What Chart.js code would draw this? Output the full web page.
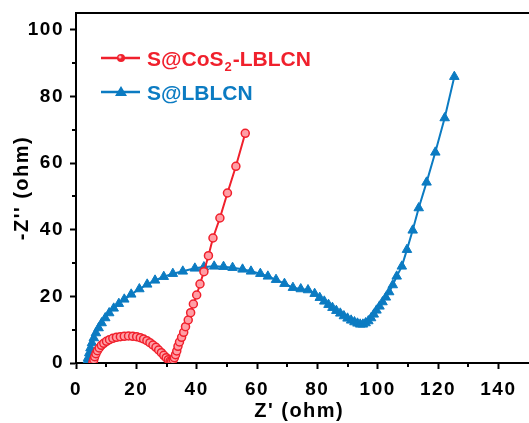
<!DOCTYPE html>
<html>
<head>
<meta charset="utf-8">
<script src="https://cdn.jsdelivr.net/npm/chart.js@4/dist/chart.umd.min.js"></script>
<style>
  html, body { margin: 0; padding: 0; background: #fff; }
  #wrap { width: 529px; height: 423px; }
</style>
</head>
<body>
<div id="wrap"><canvas id="nyquist" width="529" height="423"></canvas></div>
<script>
/* ---------- data ---------- */
const cosX = [5.6, 5.9, 6.2, 6.6, 7.1, 7.7, 8.4, 9.2, 10.1, 11.1, 12.2, 13.4, 14.7, 16.0, 17.4, 18.8, 20.1, 21.3, 22.4, 23.5,
  24.5, 25.5, 26.5, 27.4, 28.3, 29.1, 29.9, 30.6, 31.2, 31.7, 32.2, 32.6, 33.0, 33.4, 33.8, 34.3, 35.0, 35.7, 36.3, 37.2,
  38.0, 38.9, 40.0, 41.1, 42.4, 43.9, 45.4, 47.7, 50.2, 53.0, 56.1];
const cosY = [0.2, 1.0, 1.9, 2.8, 3.7, 4.5, 5.3, 5.9, 6.5, 7.0, 7.4, 7.7, 7.9, 8.0, 8.1, 8.0, 7.9, 7.6, 7.2, 6.7,
  6.1, 5.4, 4.7, 3.9, 3.1, 2.3, 1.6, 1.0, 0.6, 0.6, 1.0, 1.6, 2.5, 3.6, 5.0, 6.3, 7.7, 9.2, 10.9, 12.9,
  15.1, 17.7, 20.4, 23.7, 27.4, 32.2, 37.5, 43.5, 51.0, 59.0, 68.9];

const lblX = [3.6, 4.0, 4.4, 4.8, 5.3, 5.9, 6.6, 7.5, 8.5, 9.7, 11.0, 12.5, 14.2, 16.0, 18.3, 21.0, 23.6, 26.2, 29.1, 32.1,
  35.4, 39.4, 42.4, 45.8, 48.9, 51.9, 55.2, 58.0, 61.1, 63.6, 66.3, 69.1, 71.9, 74.5, 76.9, 79.1, 80.8, 82.3, 83.7, 85.0,
  86.3, 87.6, 88.8, 90.0, 91.2, 92.3, 93.3, 94.2, 95.1, 96.0, 96.9, 97.8, 98.7, 99.6, 100.6, 101.6, 102.7, 103.8, 105.0, 106.3,
  108.0, 109.7, 111.6, 113.6, 116.2, 119.1, 122.2, 125.4];
const lblY = [0.3, 1.5, 3.0, 4.5, 6.0, 7.5, 9.0, 10.5, 12.0, 13.5, 15.0, 16.4, 17.8, 19.1, 20.6, 22.2, 23.6, 24.8, 25.9, 26.8,
  27.5, 28.4, 28.8, 29.0, 28.9, 28.6, 28.1, 27.5, 26.8, 26.0, 25.0, 23.8, 22.6, 22.2, 21.9, 20.8, 19.6, 18.5, 17.5, 16.6,
  15.7, 14.9, 14.1, 13.4, 12.8, 12.3, 11.9, 11.6, 11.6, 12.0, 12.6, 13.5, 14.6, 15.8, 17.0, 18.3, 19.7, 21.3, 23.4, 26.0,
  29.0, 34.0, 39.8, 46.5, 54.2, 63.2, 73.5, 85.9];

const xTicks = [0, 20, 40, 60, 80, 100, 120, 140];
const yTicks = [0, 20, 40, 60, 80, 100];

/* ---------- styles ---------- */
const RED = "#f0202c";
const BLUE = "#0b7bc2";
const FONT = "'Liberation Sans', Arial, sans-serif";

function pontos(xs, ys) {
  return xs.map((x, i) => ({ x, y: ys[i] }));
}

/* axis text in the original is a bit wider than Arial */
const espacamento = {
  id: "espacamento",
  beforeDraw(chart) { chart.ctx.letterSpacing = "1.5px"; },
  beforeDatasetsDraw(chart) { chart.ctx.letterSpacing = "0px"; }
};

/* top frame line, minor ticks and legend (the original is cropped before the right frame) */
const moldura = {
  id: "moldura",
  afterDraw(chart) {
    const { ctx, chartArea: a, scales } = chart;
    ctx.save();
    ctx.letterSpacing = "0px";
    ctx.strokeStyle = "#000";
    ctx.lineWidth = 2;
    ctx.beginPath();
    ctx.moveTo(a.left, a.top);
    ctx.lineTo(chart.width, a.top);
    ctx.moveTo(a.right, a.bottom);
    ctx.lineTo(chart.width, a.bottom);
    ctx.stroke();

    // minor ticks
    ctx.beginPath();
    for (let v = 10; v < 150; v += 20) {
      const px = Math.round(scales.x.getPixelForValue(v));
      ctx.moveTo(px, a.bottom);
      ctx.lineTo(px, a.bottom + 4);
    }
    for (let v = 10; v < 105; v += 20) {
      const py = Math.round(scales.y.getPixelForValue(v));
      ctx.moveTo(a.left, py);
      ctx.lineTo(a.left - 4, py);
    }
    ctx.stroke();

    // legend
    const linhas = [
      { cor: RED, y: 58, tipo: "circulo" },
      { cor: BLUE, y: 92, tipo: "triangulo" }
    ];
    linhas.forEach(l => {
      ctx.strokeStyle = l.cor;
      ctx.lineWidth = 2.5;
      ctx.beginPath();
      ctx.moveTo(101, l.y);
      ctx.lineTo(140, l.y);
      ctx.stroke();
      ctx.fillStyle = l.cor;
      ctx.beginPath();
      if (l.tipo === "circulo") {
        ctx.arc(121, l.y, 4, 0, Math.PI * 2);
        ctx.fill();
        ctx.fillStyle = "#ffb3b8";
        ctx.beginPath();
        ctx.arc(120, l.y - 1, 1.5, 0, Math.PI * 2);
        ctx.fill();
      } else {
        ctx.moveTo(121, l.y - 6);
        ctx.lineTo(127, l.y + 4);
        ctx.lineTo(115, l.y + 4);
        ctx.closePath();
        ctx.fill();
      }
    });

    ctx.textBaseline = "alphabetic";
    ctx.textAlign = "left";
    ctx.font = "bold 21px " + FONT;
    ctx.fillStyle = RED;
    let x = 147;
    ctx.fillText("S@CoS", x, 66);
    x += ctx.measureText("S@CoS").width + 1;
    ctx.font = "bold 13px " + FONT;
    ctx.fillText("2", x, 71);
    x += ctx.measureText("2").width + 1;
    ctx.font = "bold 21px " + FONT;
    ctx.fillText("-LBLCN", x, 66);

    ctx.fillStyle = BLUE;
    ctx.fillText("S@LBLCN", 147, 100);
    ctx.restore();
  }
};

new Chart(document.getElementById("nyquist"), {
  type: "scatter",
  data: {
    datasets: [
      {
        label: "S@CoS2-LBLCN",
        data: pontos(cosX, cosY),
        showLine: true,
        borderColor: RED,
        borderWidth: 2,
        pointStyle: "circle",
        pointRadius: 4,
        pointBackgroundColor: "#ff9ea5",
        pointBorderColor: RED,
        pointBorderWidth: 1.5
      },
      {
        label: "S@LBLCN",
        data: pontos(lblX, lblY),
        showLine: true,
        borderColor: BLUE,
        borderWidth: 2,
        pointStyle: "triangle",
        pointRadius: 5.5,
        pointBackgroundColor: BLUE,
        pointBorderColor: BLUE,
        pointBorderWidth: 1
      }
    ]
  },
  options: {
    responsive: false,
    animation: false,
    layout: { padding: { top: 13, right: 2, left: 0, bottom: 0 } },
    plugins: {
      legend: { display: false },
      tooltip: { enabled: false }
    },
    scales: {
      x: {
        type: "linear",
        min: 0,
        max: 148,
        afterFit: s => {
          s.height = 60;
          s.paddingLeft = 0;
          s.paddingRight = 0;
        },
        afterBuildTicks: s => { s.ticks = xTicks.map(v => ({ value: v })); },
        ticks: {
          color: "#000",
          padding: 9,
          font: { family: FONT, size: 19, weight: "bold" }
        },
        grid: { drawOnChartArea: false, drawTicks: true, tickLength: 6, tickWidth: 2, tickColor: "#000" },
        border: { color: "#000", width: 2 },
        title: {
          display: true,
          text: "Z' (ohm)",
          color: "#000",
          padding: { top: 0, bottom: 0 },
          font: { family: FONT, size: 20, weight: "bold" }
        }
      },
      y: {
        type: "linear",
        min: 0,
        max: 105,
        afterFit: s => {
          s.width = 76;
          s.paddingTop = 0;
          s.paddingBottom = 0;
        },
        afterBuildTicks: s => { s.ticks = yTicks.map(v => ({ value: v })); },
        ticks: {
          color: "#000",
          padding: 6,
          font: { family: FONT, size: 19, weight: "bold" }
        },
        grid: { drawOnChartArea: false, drawTicks: true, tickLength: 6, tickWidth: 2, tickColor: "#000" },
        border: { color: "#000", width: 2 },
        title: {
          display: true,
          text: "-Z'' (ohm)",
          color: "#000",
          padding: { top: 10, bottom: 0 },
          font: { family: FONT, size: 20, weight: "bold" }
        }
      }
    }
  },
  plugins: [espacamento, moldura]
});
</script>
</body>
</html>
